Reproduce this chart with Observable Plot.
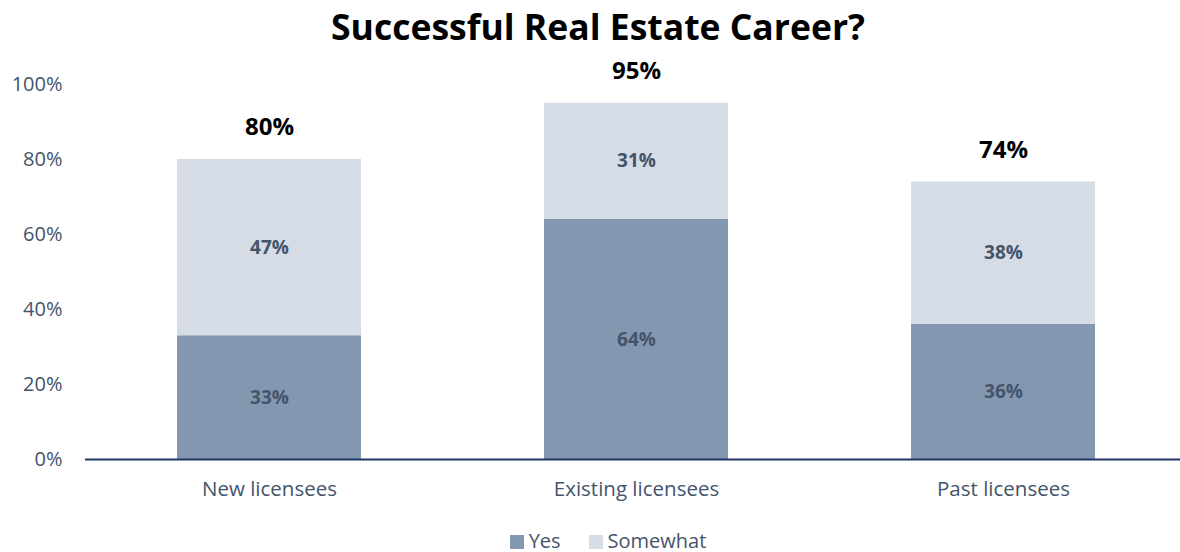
<!DOCTYPE html>
<html>
<head>
<meta charset="utf-8">
<script src="https://cdn.jsdelivr.net/npm/d3@7"></script>
<script src="https://cdn.jsdelivr.net/npm/@observablehq/plot@0.6"></script>
<style>
  html, body { margin: 0; padding: 0; background: #fff; }
  body { width: 1180px; height: 552px; overflow: hidden; font-family: "Open Sans", sans-serif; position: relative; }
  #chart { position: absolute; left: 0; top: 0; }
  #title { position: absolute; left: 8px; top: 0; width: 1180px; height: 60px; text-align: center; z-index: 2;
           font-weight: 700; font-size: 35.5px; line-height: 52px; color: #000; }
  #legend { position: absolute; left: 18px; top: 528px; width: 1180px; text-align: center;
            font-size: 20px; line-height: 26px; color: #44546A; }
  #legend span.item { display: inline-block; margin: 0 14px; }
  #legend span.sw { display: inline-block; width: 14px; height: 14px; margin-right: 5px; vertical-align: -1px; }
</style>
</head>
<body>
<div id="chart"></div>
<div id="title">Successful Real Estate Career?</div>
<div id="legend"></div>
<script>
const categories = ["New licensees", "Existing licensees", "Past licensees"];
const series = ["Yes", "Somewhat"];
const yesValues = [33, 64, 36];
const somewhatValues = [47, 31, 38];
const totals = [80, 95, 74];
const yTicks = [0, 20, 40, 60, 80, 100];
const colors = ["#8497B0", "#D6DCE5"];

const rows = [];
categories.forEach((c, i) => {
  rows.push({category: c, series: "Yes", value: yesValues[i], mid: yesValues[i] / 2});
  rows.push({category: c, series: "Somewhat", value: somewhatValues[i], mid: yesValues[i] + somewhatValues[i] / 2});
});
const totalRows = categories.map((c, i) => ({category: c, total: totals[i]}));

const chart = Plot.plot({
  width: 1180,
  height: 525,
  marginLeft: 85,
  marginRight: 0,
  marginTop: 84,
  marginBottom: 66,
  style: {fontFamily: "Open Sans, sans-serif", background: "transparent"},
  x: {domain: categories, range: [85.5, 1186.5], paddingInner: 0.5, paddingOuter: 0.25, label: null, tickSize: 0, tickPadding: 22},
  y: {domain: [0, 100], ticks: yTicks, tickFormat: d => d + "%", label: null, tickSize: 0, tickPadding: 23},
  color: {domain: series, range: colors},
  marks: [
    Plot.barY(rows, Plot.stackY({x: "category", y: "value", fill: "series", order: series})),
    Plot.text(rows, {x: "category", y: "mid", text: d => d.value + "%", fill: "#44546A", fontWeight: 700, fontSize: 19}),
    Plot.text(totalRows, {x: "category", y: "total", text: d => d.total + "%", fill: "#000", fontWeight: 700, fontSize: 24, dy: -32}),
    Plot.ruleY([0], {stroke: "#1F3864", strokeWidth: 2})
  ]
});
chart.querySelectorAll('g[aria-label="x-axis tick label"]').forEach(g => {
  g.setAttribute("font-size", 20.5);
  g.setAttribute("fill", "#44546A");
});
chart.querySelectorAll('g[aria-label="y-axis tick label"]').forEach(g => {
  g.setAttribute("font-size", 20);
  g.setAttribute("fill", "#44546A");
});
document.getElementById("chart").appendChild(chart);

const legend = document.getElementById("legend");
series.forEach((s, i) => {
  const item = document.createElement("span");
  item.className = "item";
  const sw = document.createElement("span");
  sw.className = "sw";
  sw.style.background = colors[i];
  item.appendChild(sw);
  item.appendChild(document.createTextNode(s));
  legend.appendChild(item);
});
</script>
</body>
</html>
